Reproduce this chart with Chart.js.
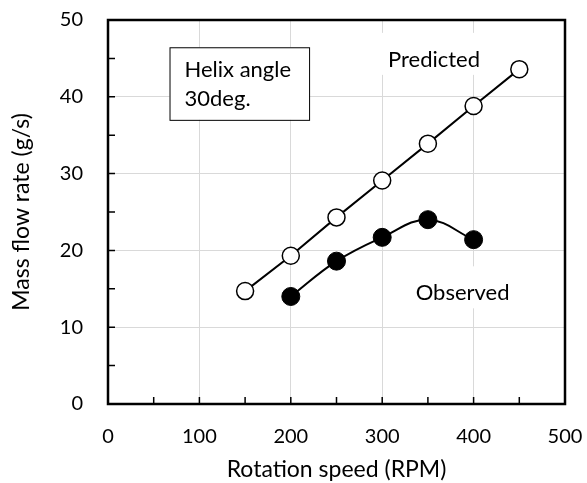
<!DOCTYPE html>
<html>
<head>
<meta charset="utf-8">
<script src="https://cdn.jsdelivr.net/npm/chart.js@4.4.1/dist/chart.umd.min.js"></script>
<style>
  html, body { margin: 0; padding: 0; background: #fff; }
  #wrap { width: 587px; height: 483px; }
</style>
</head>
<body>
<div id="wrap"><canvas id="chart" width="587" height="483"></canvas></div>
<script>
// values
const predictedSpeed = [150, 200, 250, 300, 350, 400, 450];
const predictedFlow = [14.7, 19.3, 24.3, 29.1, 33.9, 38.8, 43.6];
const observedSpeed = [200, 250, 300, 350, 400];
const observedFlow = [14.0, 18.6, 21.7, 24.0, 21.4];

const xTitle = "Rotation speed (RPM)";
const yTitle = "Mass flow rate (g/s)";
const FONT = "Lato";

const ctx = document.getElementById("chart").getContext("2d");

function toPoints(xs, ys) {
  return xs.map((x, i) => ({ x: x, y: ys[i] }));
}

// stop the tick padding from eating into the plot area
function fixScale(scale, size) {
  if (scale.isHorizontal()) scale.height = size;
  else scale.width = size;
  scale.paddingTop = 0;
  scale.paddingBottom = 0;
  scale.paddingLeft = 0;
  scale.paddingRight = 0;
}

// frame, inward tick marks and text labels
const decorations = {
  id: "decorations",
  beforeDatasetsDraw(chart) {
    const { ctx, chartArea: a, scales } = chart;
    const xs = scales.x, ys = scales.y;
    ctx.save();
    ctx.strokeStyle = "#000";
    ctx.lineWidth = 1.5;
    ctx.beginPath();
    for (let v = 50; v < 500; v += 50) {
      const px = xs.getPixelForValue(v);
      ctx.moveTo(px, a.bottom);
      ctx.lineTo(px, a.bottom - 7);
    }
    for (let v = 5; v < 50; v += 5) {
      const py = ys.getPixelForValue(v);
      ctx.moveTo(a.left, py);
      ctx.lineTo(a.left + 7, py);
    }
    ctx.stroke();

    ctx.lineWidth = 2.5;
    ctx.strokeRect(a.left, a.top, a.right - a.left, a.bottom - a.top);

    ctx.font = "22px " + FONT;
    ctx.textBaseline = "alphabetic";
    ctx.textAlign = "center";
    // labels with white backgrounds
    const labels = [
      { text: "Predicted", x: 356.7, y: 43.9 },
      { text: "Observed", x: 388, y: 13.5 }
    ];
    labels.forEach((l) => {
      const px = xs.getPixelForValue(l.x);
      const py = ys.getPixelForValue(l.y);
      const w = ctx.measureText(l.text).width;
      ctx.fillStyle = "#fff";
      ctx.fillRect(px - w / 2 - 6, py - 34, w + 12, 42);
      ctx.fillStyle = "#000";
      ctx.fillText(l.text, px, py);
    });

    // Helix angle box
    const bx0 = xs.getPixelForValue(67.3), bx1 = xs.getPixelForValue(220);
    const by0 = ys.getPixelForValue(46.45), by1 = ys.getPixelForValue(37);
    ctx.fillStyle = "#fff";
    ctx.fillRect(bx0, by0, bx1 - bx0, by1 - by0);
    ctx.lineWidth = 1;
    ctx.strokeRect(bx0 + 0.5, by0 + 0.5, bx1 - bx0, by1 - by0);
    ctx.fillStyle = "#000";
    ctx.textAlign = "left";
    ctx.fillText("Helix angle", bx0 + 15, by0 + 30);
    ctx.fillText("30deg.", bx0 + 15, by0 + 59);
    ctx.restore();
  }
};

const chart = new Chart(ctx, {
  type: "scatter",
  data: {
    datasets: [
      {
        label: "Predicted",
        data: toPoints(predictedSpeed, predictedFlow),
        showLine: true,
        borderColor: "#000",
        borderWidth: 2,
        pointRadius: 8.5,
        pointBorderWidth: 1.5,
        pointBackgroundColor: "#fff",
        pointBorderColor: "#000",
        tension: 0
      },
      {
        label: "Observed",
        data: toPoints(observedSpeed, observedFlow),
        showLine: true,
        borderColor: "#000",
        borderWidth: 2,
        pointRadius: 9,
        pointBorderWidth: 1,
        pointBackgroundColor: "#000",
        pointBorderColor: "#000",
        tension: 0.4
      }
    ]
  },
  options: {
    responsive: false,
    animation: false,
    layout: { padding: { left: 0, right: 22, top: 20, bottom: 0 } },
    plugins: {
      legend: { display: false },
      tooltip: { enabled: false }
    },
    scales: {
      x: {
        type: "linear",
        min: 0,
        max: 500,
        afterFit: (scale) => fixScale(scale, 79),
        border: { display: false },
        grid: { color: "#d9d9d9", lineWidth: 1, drawTicks: false },
        ticks: { stepSize: 100, padding: 21, color: "#000", font: { family: FONT, size: 20 } },
        title: {
          display: true,
          text: xTitle,
          color: "#000",
          font: { family: FONT, size: 23 },
          padding: { top: 0, bottom: 0 }
        }
      },
      y: {
        type: "linear",
        min: 0,
        max: 50,
        afterFit: (scale) => fixScale(scale, 108),
        border: { display: false },
        grid: { color: "#d9d9d9", lineWidth: 1, drawTicks: false },
        ticks: { stepSize: 10, padding: 25, color: "#000", font: { family: FONT, size: 20 } },
        title: {
          display: true,
          text: yTitle,
          color: "#000",
          font: { family: FONT, size: 23 },
          padding: { top: 8, bottom: 0 }
        }
      }
    }
  },
  plugins: [decorations]
});
</script>
</body>
</html>
